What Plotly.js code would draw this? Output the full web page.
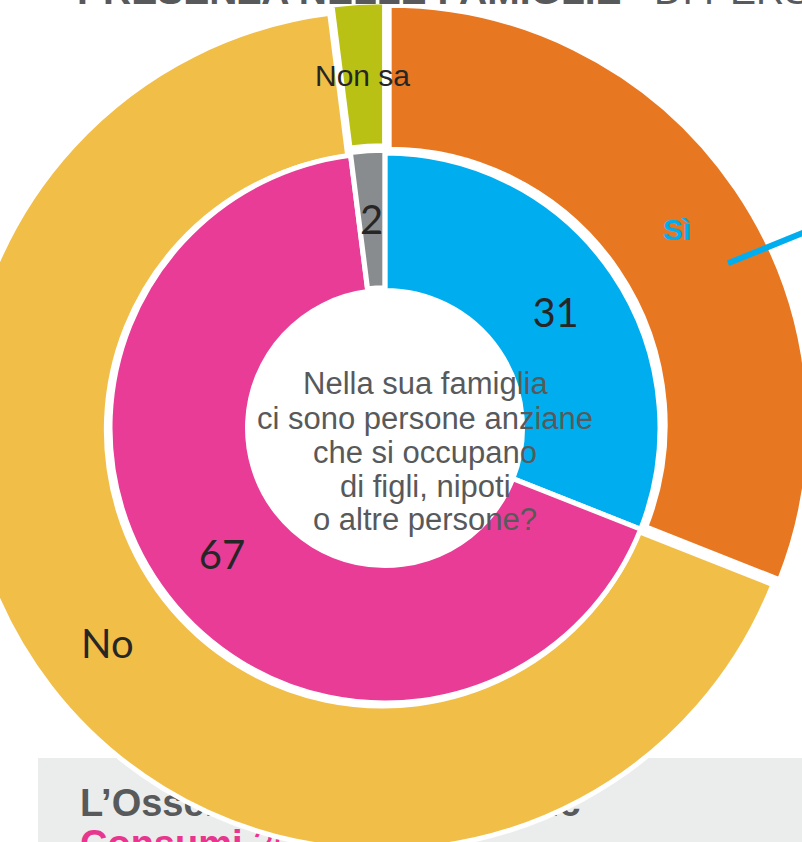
<!DOCTYPE html>
<html><head><meta charset="utf-8">
<script src="https://cdn.plot.ly/plotly-3.0.1.min.js"></script>
<style>
html,body{margin:0;padding:0;width:802px;height:842px;overflow:hidden;background:#fff;}
#chart{position:absolute;left:-115px;top:-72px;width:1000px;height:1000px;}
</style>
</head><body><div id="chart"></div>
<script>
// ---- data ----
const categories = ['Sì', 'No', 'Non sa'];
const outerValues = [31, 67, 2];
const innerValues = [31, 67, 2];
const centerLines = ['Nella sua famiglia', 'ci sono persone anziane', 'che si occupano', 'di figli, nipoti', 'o altre persone?'];
const titleText = '<b>PRESENZA NELLE FAMIGLIE</b> &nbsp; DI PERSONE ANZIANE';
const footerLine1 = '<b>L’Osservatorio Findomestic</b>';
const footerLine2 = '<b>Consumi</b> 2016';

// ---- styles / geometry ----
const outerColors = ['#E87722', '#F1BE48', '#B9C115'];
const innerColors = ['#00AEEF', '#E83C96', '#898C8E'];
const L = -115, T = -72, W = 1000, H = 1000;
const px = x => (x - L) / W, py = y => 1 - (y - T) / H;
const CX = 385, CY = 428;
const ROUT = 420, RHOLE_OUT = 276, RIN = 275, RHOLE_IN = 137.5;
const outerPull = [0.012, 0.008, 0.015];
const innerPull = [0, 0, 0.01];
const maxO = Math.max(...outerPull), maxI = Math.max(...innerPull);
const hO = ROUT * (1 + maxO) / W, hI = RIN * (1 + maxI) / W;

function midAngle(vals, i) {
  const tot = vals.reduce((a, b) => a + b, 0);
  let before = 0;
  for (let k = 0; k < i; k++) before += vals[k];
  return 2 * Math.PI * (before + vals[i] / 2) / tot;
}
function labelPos(vals, i, r) {
  const a = midAngle(vals, i);
  return {x: CX + r * Math.sin(a), y: CY - r * Math.cos(a)};
}

const outer = {
  type: 'pie', values: outerValues, labels: categories, sort: false,
  direction: 'clockwise', rotation: 0, hole: RHOLE_OUT / ROUT,
  domain: {x: [0.5 - hO, 0.5 + hO], y: [0.5 - hO, 0.5 + hO]},
  marker: {colors: outerColors, line: {color: '#ffffff', width: 5}},
  pull: outerPull,
  texttemplate: ['<b>%{label}</b>', '%{label}', ''],
  textposition: 'inside', insidetextorientation: 'horizontal',
  textfont: {family: ['Liberation Sans', 'Lato', 'Liberation Sans'], size: [30, 40, 30], color: ['#00AEEF', '#262626', '#262626']},
  hoverinfo: 'skip', showlegend: false
};
const inner = {
  type: 'pie', values: innerValues, labels: categories, sort: false,
  direction: 'clockwise', rotation: 0, hole: RHOLE_IN / RIN,
  domain: {x: [0.5 - hI, 0.5 + hI], y: [0.5 - hI, 0.5 + hI]},
  marker: {colors: innerColors, line: {color: '#ffffff', width: 5}},
  pull: innerPull,
  texttemplate: ['%{value}', '%{value}', ''],
  textposition: 'inside', insidetextorientation: 'horizontal',
  textfont: {family: 'Lato', size: 40, color: '#262626'},
  hoverinfo: 'skip', showlegend: false
};

const annotations = [];
// small-slice labels that overflow their slices
const pNonSa = labelPos(outerValues, 2, (RHOLE_OUT + ROUT) / 2 + outerPull[2] * ROUT);
annotations.push({xref: 'paper', yref: 'paper', x: px(pNonSa.x), y: py(pNonSa.y + 1), text: categories[2], showarrow: false,
  xanchor: 'center', yanchor: 'middle', font: {family: 'Liberation Sans', size: 30, color: '#262626'}});
const p2 = labelPos(innerValues, 2, (RHOLE_IN + RIN) / 2 + innerPull[2] * RIN);
annotations.push({xref: 'paper', yref: 'paper', x: px(p2.x), y: py(p2.y), text: String(innerValues[2]), showarrow: false,
  xanchor: 'center', yanchor: 'middle', font: {family: 'Lato', size: 40, color: '#262626'}});
// centre question
const baselines = [394, 428, 462, 496, 529];
centerLines.forEach((t, i) => annotations.push({xref: 'paper', yref: 'paper', x: px(425), y: py(baselines[i] - 10),
  text: t, showarrow: false, xanchor: 'center', yanchor: 'middle',
  font: {family: 'Liberation Sans', size: 31, color: '#58595B'}}));
// title (cut off at the top)
annotations.push({xref: 'paper', yref: 'paper', x: px(75), y: py(14), text: titleText, showarrow: false,
  xanchor: 'left', yanchor: 'bottom', font: {family: 'Liberation Sans', size: 39, color: '#58595B'}});

const shapes = [
  {type: 'rect', xref: 'paper', yref: 'paper', x0: px(38), x1: px(950), y0: py(758), y1: py(980),
   fillcolor: '#EBECEC', line: {width: 0}, layer: 'below'},
  {type: 'rect', xref: 'paper', yref: 'paper', x0: px(77), x1: px(750), y0: py(779), y1: py(819),
   fillcolor: 'rgba(0,0,0,0)', line: {width: 0}, layer: 'below',
   label: {text: footerLine1, textposition: 'middle left', padding: 0, font: {family: 'Liberation Sans', size: 38, color: '#58595B'}}},
  {type: 'rect', xref: 'paper', yref: 'paper', x0: px(77), x1: px(750), y0: py(820), y1: py(860),
   fillcolor: 'rgba(0,0,0,0)', line: {width: 0}, layer: 'below',
   label: {text: footerLine2, textposition: 'middle left', padding: 0, font: {family: 'Liberation Sans', size: 38, color: '#E8368F'}}},
  {type: 'line', xref: 'paper', yref: 'paper', x0: px(728), y0: py(263.3), x1: px(880), y1: py(263.3 - 0.407 * 152),
   line: {color: '#00AEEF', width: 6}, layer: 'above'}
];

Plotly.newPlot('chart', [outer, inner], {
  width: W, height: H, margin: {l: 0, r: 0, t: 0, b: 0},
  paper_bgcolor: 'rgba(0,0,0,0)', plot_bgcolor: 'rgba(0,0,0,0)',
  showlegend: false, annotations: annotations, shapes: shapes
}, {staticPlot: true, displayModeBar: false});
</script>
</body></html>
